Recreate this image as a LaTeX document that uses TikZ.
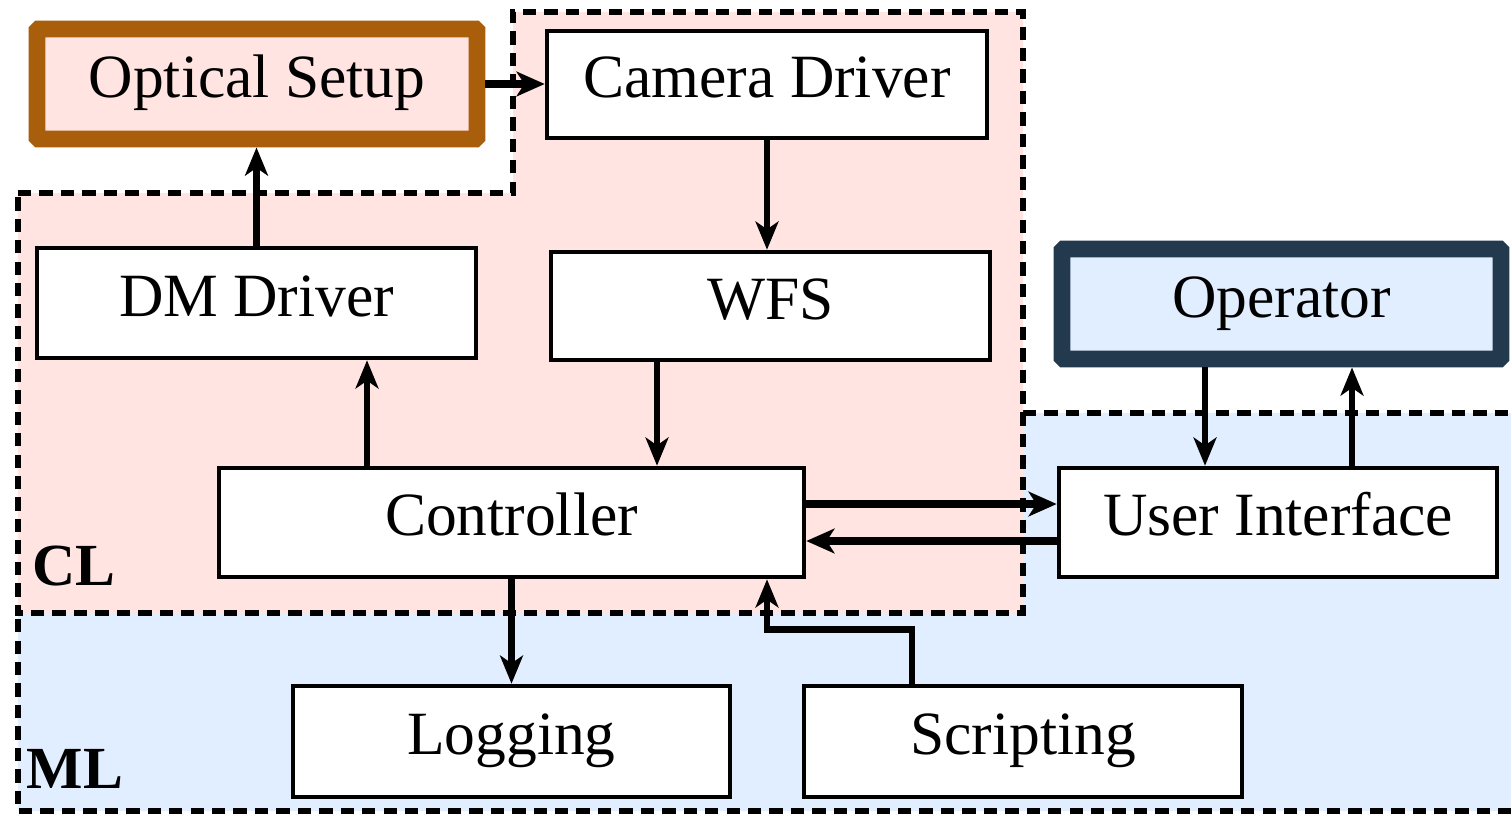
\documentclass[tikz,border=0pt]{standalone}
\usepackage{fontspec}
\setmainfont{Liberation Serif}
\usepackage{xcolor}
\usepackage{tikz}
\usetikzlibrary{arrows.meta, calc}
\definecolor{clPink}{RGB}{255,228,225}
\definecolor{mlBlue}{RGB}{224,238,255}
\definecolor{setupBrown}{RGB}{168,94,10}
\definecolor{operNavy}{RGB}{35,58,78}

\begin{document}
\begin{tikzpicture}[
	block/.style={draw=black, line width=1.3pt, fill=white, minimum width=4.39cm, minimum height=1.08cm, inner sep=0pt, text height=12pt, text depth=4.5pt, font=\fontsize{17.5}{20}\selectfont},
	region/.style={draw=black, line width=1.9pt, dash pattern=on 3.8pt off 2.3pt},
	flow/.style={line width=1.9pt, -{Stealth[length=8pt, width=6.5pt, inset=2.2pt]}},
	bus/.style={line width=2.4pt, -{Stealth[length=8pt, width=7pt, inset=2.2pt]}},
	layer/.style={font=\fontsize{17}{18}\selectfont\bfseries, inner sep=0pt, anchor=base west}]

	\useasboundingbox (0,0) rectangle (15.11,8.16);

	\fill[mlBlue] (0.18,2.03) -- (0.18,0.05) -- (15.4,0.05) -- (15.4,4.03) -- (10.23,4.03) -- (10.23,2.03) -- cycle;
	\draw[region] (10.23,4.03) -- (15.4,4.03) -- (15.4,0.05) -- (0.18,0.05) -- (0.18,2.03);
	\filldraw[region, fill=clPink] (0.18,6.23) -- (5.13,6.23) -- (5.13,8.04) -- (10.23,8.04) -- (10.23,2.03) -- (0.18,2.03) -- cycle;

	\node[block, fill=clPink, draw=setupBrown, line width=4.8pt, rounded corners=0.5pt, minimum width=4.4cm, minimum height=1.1cm] (optic) at (2.57,7.32) {Optical Setup};
	\node[block, minimum width=4.4cm, minimum height=1.07cm] (cam) at (7.67,7.315) {Camera Driver};
	\node[block, minimum height=1.1cm] (dm) at (2.565,5.13) {DM Driver};
	\node[block] (wfs) at (7.705,5.10) {WFS};
	\node[block, fill=mlBlue, draw=operNavy, line width=4.8pt, rounded corners=0.5pt, minimum height=1.1cm] (oper) at (12.815,5.12) {Operator};
	\node[block, minimum width=5.85cm, minimum height=1.09cm] (ctrl) at (5.115,2.935) {Controller};
	\node[block, minimum width=4.38cm, minimum height=1.09cm] (ui) at (12.78,2.935) {User Interface};
	\node[block, minimum width=4.37cm, minimum height=1.11cm] (log) at (5.115,0.745) {Logging};
	\node[block, minimum width=4.38cm, minimum height=1.11cm] (scr) at (10.23,0.745) {Scripting};

	\node[layer] (cl) at (0.32,2.31) {CL};
	\node[layer] (ml) at (0.26,0.28) {ML};

	\draw[bus] (optic.east) -- (optic.east -| cam.west);
	\draw[flow] (cam.south) -- (cam.south |- wfs.north);
	\draw[flow] (dm.north) -- (dm.north |- optic.south);
	\draw[flow] ([xshift=-1.135cm]wfs.south) -- ([xshift=-1.135cm]wfs.south |- ctrl.north);
	\draw[flow] ([xshift=-1.445cm]ctrl.north) -- ([xshift=-1.445cm]ctrl.north |- dm.south);
	\draw[bus] ([yshift=0.185cm]ctrl.east) -- ([yshift=0.185cm]ctrl.east -| ui.west);
	\draw[bus] ([yshift=-0.185cm]ui.west) -- ([yshift=-0.185cm]ui.west -| ctrl.east);
	\draw[flow] (ctrl.south) -- (log.north);
	\draw[flow] ([xshift=-1.11cm]scr.north) -- ++(0,0.54) -| ([xshift=2.555cm]ctrl.south);
	\draw[flow] ([xshift=-0.765cm]oper.south) -- ([xshift=-0.765cm]oper.south |- ui.north);
	\draw[flow] ([xshift=0.74cm]ui.north) -- ([xshift=0.74cm]ui.north |- oper.south);

\end{tikzpicture}
\end{document}
